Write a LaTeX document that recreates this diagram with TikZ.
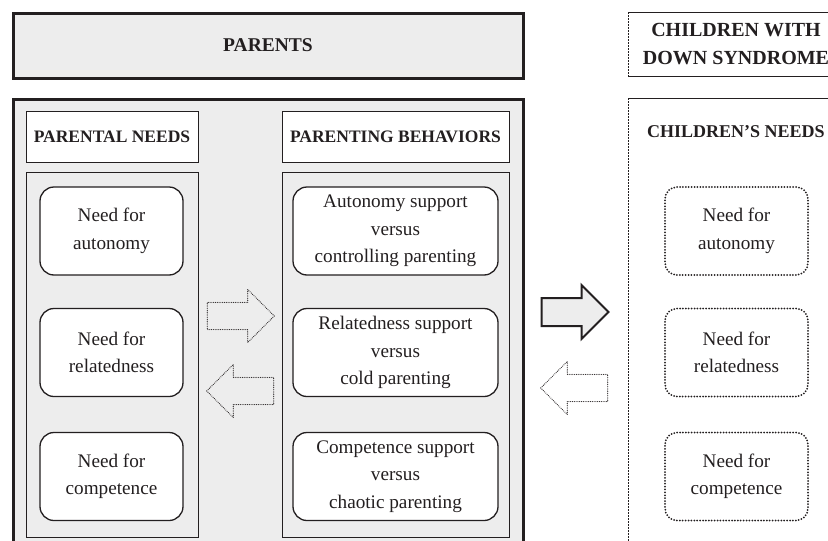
\documentclass[tikz,border=0pt]{standalone}
\usepackage{fontspec}
\setmainfont{Liberation Serif}
\usetikzlibrary{shapes.arrows}
\definecolor{boxgray}{HTML}{EDEDED}
\definecolor{ink}{HTML}{231F20}
\begin{document}
\begin{tikzpicture}[x=1pt,y=-1pt,
	title/.style={font=\fontsize{19.5}{24}\selectfont\bfseries, align=center, text=ink},
	headbox/.style={draw=ink, fill=white, line width=0.9pt, minimum height=51pt, inner sep=0pt, font=\fontsize{17.5}{21}\selectfont\bfseries, text=ink},
	needbox/.style={draw=ink, fill=white, line width=1.3pt, rounded corners=14pt, minimum width=143pt, minimum height=88pt, inner sep=0pt, align=center, font=\fontsize{19.2}{27.5}\selectfont, text=ink},
	dotbox/.style={needbox, line width=2pt, line cap=round, dash pattern=on 0pt off 2.9pt, rounded corners=12pt},
	blockarrow/.style={single arrow, single arrow head extend=13pt, minimum height=67pt, inner xsep=0pt, inner ysep=13pt, line width=0.9pt, draw=ink},
	dotarrow/.style={blockarrow, line width=1.1pt, line cap=round, dash pattern=on 0pt off 1.8pt}]
	\clip (0,0) rectangle (828,541);
	% Parents
	\draw [line width=3pt, draw=ink, fill=boxgray] (13,13) rectangle (523,78);
	\node [title] (parents) at (268,45) {PARENTS};
	\draw [line width=3pt, draw=ink, fill=boxgray] (13,99) rectangle (523,570);
	\node [headbox, minimum width=172pt] (pneeds) at (112,136.5) {PARENTAL NEEDS};
	\node [headbox, minimum width=227pt] (pbehav) at (395.5,136.5) {PARENTING BEHAVIORS};
	\draw [line width=0.9pt, draw=ink] (26,172) rectangle (198,537);
	\draw [line width=0.9pt, draw=ink] (282,172) rectangle (509,537);
	\node [needbox] (pauto) at (111.5,231) {Need for\\autonomy};
	\node [needbox] (prel) at (111.5,352.5) {Need for\\relatedness};
	\node [needbox] (pcomp) at (111.5,476.5) {Need for\\competence};
	\node [needbox, minimum width=205pt] (bauto) at (395.5,231) {Autonomy support\\versus\\controlling parenting};
	\node [needbox, minimum width=205pt] (brel) at (395.5,352.5) {Relatedness support\\versus\\cold parenting};
	\node [needbox, minimum width=205pt] (bcomp) at (395.5,476.5) {Competence support\\versus\\chaotic parenting};
	\node [dotarrow] (toright) at (234,316) {};
	\node [dotarrow, shape border rotate=180] (toleft) at (247,391) {};
	% Between parents and children
	\node [blockarrow, fill=boxgray, line width=2pt] (tochild) at (568,312) {};
	\node [dotarrow, shape border rotate=180] (toparent) at (581,388) {};
	% Children
	\draw [ink, line width=0.7pt, dash pattern=on 2pt off 1pt] (628,12) -- (628,76);
	\draw [ink, line width=0.9pt] (628,12) -- (850,12) (628,76) -- (850,76);
	\node [title, font=\fontsize{20}{28}\selectfont\bfseries] (children) at (736,44) {CHILDREN WITH\\DOWN SYNDROME};
	\draw [ink, line width=0.7pt, dash pattern=on 2pt off 1pt] (628,98) -- (628,545);
	\draw [ink, line width=0.9pt] (628,98) -- (850,98);
	\node [title, font=\fontsize{18}{22}\selectfont\bfseries] (cneeds) at (736,132) {CHILDREN'S NEEDS};
	\node [dotbox] (cauto) at (736.5,231) {Need for\\autonomy};
	\node [dotbox] (crel) at (736.5,352.5) {Need for\\relatedness};
	\node [dotbox] (ccomp) at (736.5,476.5) {Need for\\competence};
\end{tikzpicture}
\end{document}
